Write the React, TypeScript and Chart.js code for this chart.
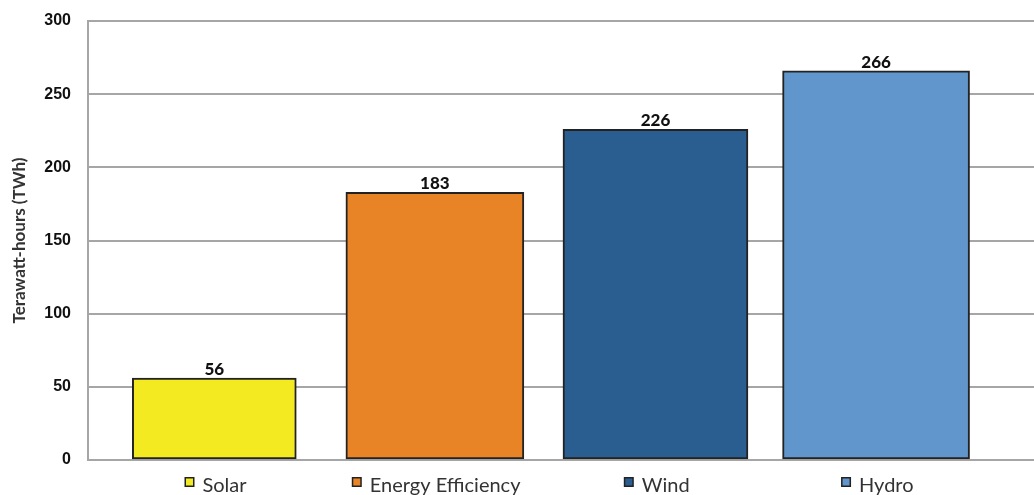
import React, { useEffect, useRef } from "react";
import { Chart, registerables } from "chart.js";

Chart.register(...registerables);

const categories = ["Solar", "Energy Efficiency", "Wind", "Hydro"];
const values = [56, 183, 226, 266];
const colors = ["#F4EA21", "#E98426", "#2A5E91", "#6096CB"];
const barWidths = [164, 178, 185, 187];
const yTicks = [0, 50, 100, 150, 200, 250, 300];
const PAD = "    ";

const valueLabels = {
  id: "valueLabels",
  afterDatasetsDraw(chart: any) {
    const ctx = chart.ctx;
    ctx.save();
    ctx.font = "900 17px Lato";
    ctx.fillStyle = "#111";
    ctx.textAlign = "center";
    ctx.textBaseline = "alphabetic";
    chart.data.datasets.forEach((ds: any, i: number) => {
      const meta = chart.getDatasetMeta(i);
      const el = meta.data[0];
      if (!el) return;
      ctx.fillText(String(ds.data[0].y), el.x, el.y - 3);
    });
    ctx.restore();
  },
};

const tickSquares = {
  id: "tickSquares",
  afterDraw(chart: any) {
    const ctx = chart.ctx;
    const xs = chart.scales.x;
    ctx.save();
    ctx.font = "20px Lato";
    const padW = ctx.measureText(PAD).width;
    xs.ticks.forEach((t: any) => {
      const idx = Math.round(t.value);
      const w = ctx.measureText(PAD + categories[idx]).width;
      const px = xs.getPixelForValue(t.value);
      const nameStart = px - w / 2 + padW;
      const left = nameStart - 18;
      ctx.fillStyle = colors[idx];
      ctx.fillRect(left + 0.75, 477.75, 8.5, 8.5);
      ctx.strokeStyle = "#222";
      ctx.lineWidth = 1.5;
      ctx.strokeRect(left + 0.75, 477.75, 8.5, 8.5);
    });
    ctx.restore();
  },
};

export default function App() {
  const ref = useRef<HTMLCanvasElement>(null);
  useEffect(() => {
    document.body.style.margin = "0";
    const chart = new Chart(ref.current!, {
      type: "bar",
      data: {
        datasets: categories.map((c, i) => ({
          label: c,
          data: [{ x: i, y: values[i] }],
          backgroundColor: colors[i],
          borderColor: "#222",
          borderWidth: 2,
          borderSkipped: false,
          grouped: false,
          barThickness: barWidths[i],
        })),
      },
      options: {
        animation: false,
        responsive: false,
        maintainAspectRatio: false,
        layout: { padding: { top: 0, left: 0, right: 0, bottom: 0 } },
        plugins: {
          legend: { display: false },
          tooltip: { enabled: false },
        },
        scales: {
          x: {
            type: "linear",
            offset: false,
            min: -0.5725,
            max: 3.716,
            afterBuildTicks: (s: any) => {
              s.ticks = categories.map((_, i) => ({ value: i }));
            },
            ticks: {
              autoSkip: false,
              maxRotation: 0,
              padding: 22,
              color: "#333",
              font: { family: "Lato", size: 20, lineHeight: 0.4 },
              callback: (v: any) => PAD + categories[Math.round(v)],
            },
            grid: { display: false, drawTicks: false, offset: false },
            border: { display: true, color: "#A6A6A6", width: 2 },
          },
          y: {
            min: 0,
            max: 300,
            afterBuildTicks: (s: any) => {
              s.ticks = yTicks.map((v) => ({ value: v }));
            },
            afterFit: (s: any) => {
              s.width = 88;
            },
            ticks: {
              padding: 17,
              color: "#111",
              font: { family: "Liberation Sans", size: 16, weight: "bold", lineHeight: 0.5 },
            },
            grid: { color: "#A6A6A6", lineWidth: 2, drawTicks: false },
            border: { display: true, color: "#A6A6A6", width: 2 },
            title: {
              display: true,
              text: "Terawatt-hours (TWh)",
              color: "#333",
              font: { family: "Lato", size: 17, weight: "bold" },
              padding: { top: 9, bottom: 0 },
            },
          },
        },
      },
      plugins: [valueLabels, tickSquares],
    });
    return () => chart.destroy();
  }, []);
  return (
    <div style={{ position: "absolute", left: 0, top: 0, width: 1034, height: 495, overflow: "hidden" }}>
      <canvas ref={ref} width={1034} height={512} />
    </div>
  );
}
